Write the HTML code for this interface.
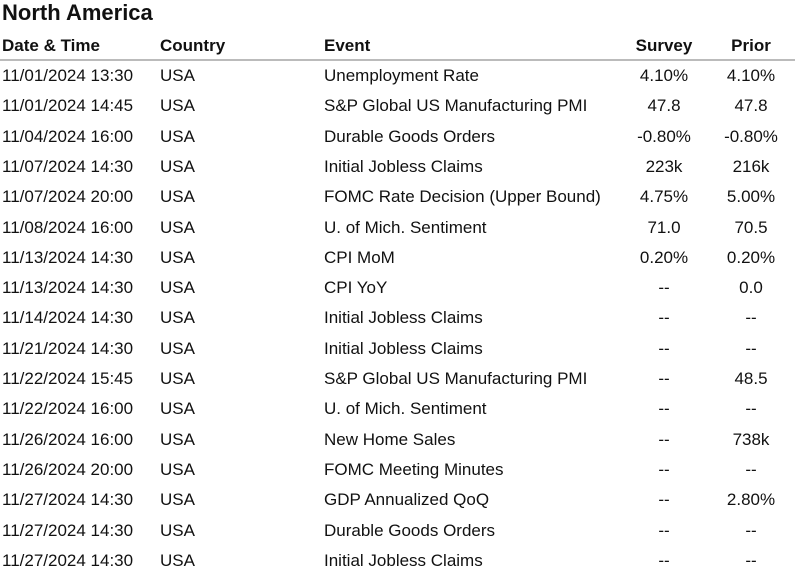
<!DOCTYPE html>
<html><head><meta charset="utf-8"><style>
body{margin:0;width:795px;height:583px;background:#fff;font-family:"Liberation Sans",sans-serif;color:#111;position:relative;overflow:hidden}
.t{position:absolute;left:2px;top:0px;font-size:22px;font-weight:bold;line-height:26px}
.r{position:absolute;left:0;width:795px;height:30px;font-size:17px;line-height:30px}
.r span{position:absolute;white-space:nowrap}
.h{font-weight:bold}
.c1{left:2px}.c2{left:160px}.c3{left:324px}
.c4{left:624px;width:80px;text-align:center}.c5{left:712px;width:78px;text-align:center}
.line{position:absolute;left:0;top:59px;width:795px;height:2px;background:#bbb}
</style></head><body>
<div class="t">North America</div>
<div class="r h" style="top:31px">
<span class="c1">Date &amp; Time</span><span class="c2">Country</span><span class="c3">Event</span><span class="c4">Survey</span><span class="c5">Prior</span></div>
<div class="line"></div>
<div id="rows"></div>
<script>
const dates=["11/01/2024 13:30","11/01/2024 14:45","11/04/2024 16:00","11/07/2024 14:30","11/07/2024 20:00","11/08/2024 16:00","11/13/2024 14:30","11/13/2024 14:30","11/14/2024 14:30","11/21/2024 14:30","11/22/2024 15:45","11/22/2024 16:00","11/26/2024 16:00","11/26/2024 20:00","11/27/2024 14:30","11/27/2024 14:30","11/27/2024 14:30"];
const events=["Unemployment Rate","S&P Global US Manufacturing PMI","Durable Goods Orders","Initial Jobless Claims","FOMC Rate Decision (Upper Bound)","U. of Mich. Sentiment","CPI MoM","CPI YoY","Initial Jobless Claims","Initial Jobless Claims","S&P Global US Manufacturing PMI","U. of Mich. Sentiment","New Home Sales","FOMC Meeting Minutes","GDP Annualized QoQ","Durable Goods Orders","Initial Jobless Claims"];
const survey=["4.10%","47.8","-0.80%","223k","4.75%","71.0","0.20%","--","--","--","--","--","--","--","--","--","--"];
const prior=["4.10%","47.8","-0.80%","216k","5.00%","70.5","0.20%","0.0","--","--","48.5","--","738k","--","2.80%","--","--"];
const root=document.getElementById('rows');
dates.forEach((d,i)=>{
 const r=document.createElement('div');
 r.className='r';
 r.style.top=(61+i*30.3)+'px';
 
 
 const vals=[d,'USA',events[i],survey[i],prior[i]];
 const names=['date-cell','country-cell','event-cell','survey-cell','prior-cell'];
 vals.forEach((v,j)=>{
  const s=document.createElement('span');
  s.className='c'+(j+1);
  s.textContent=v;
  
  
  r.appendChild(s);
 });
 root.appendChild(r);
});
</script>
</body></html>
